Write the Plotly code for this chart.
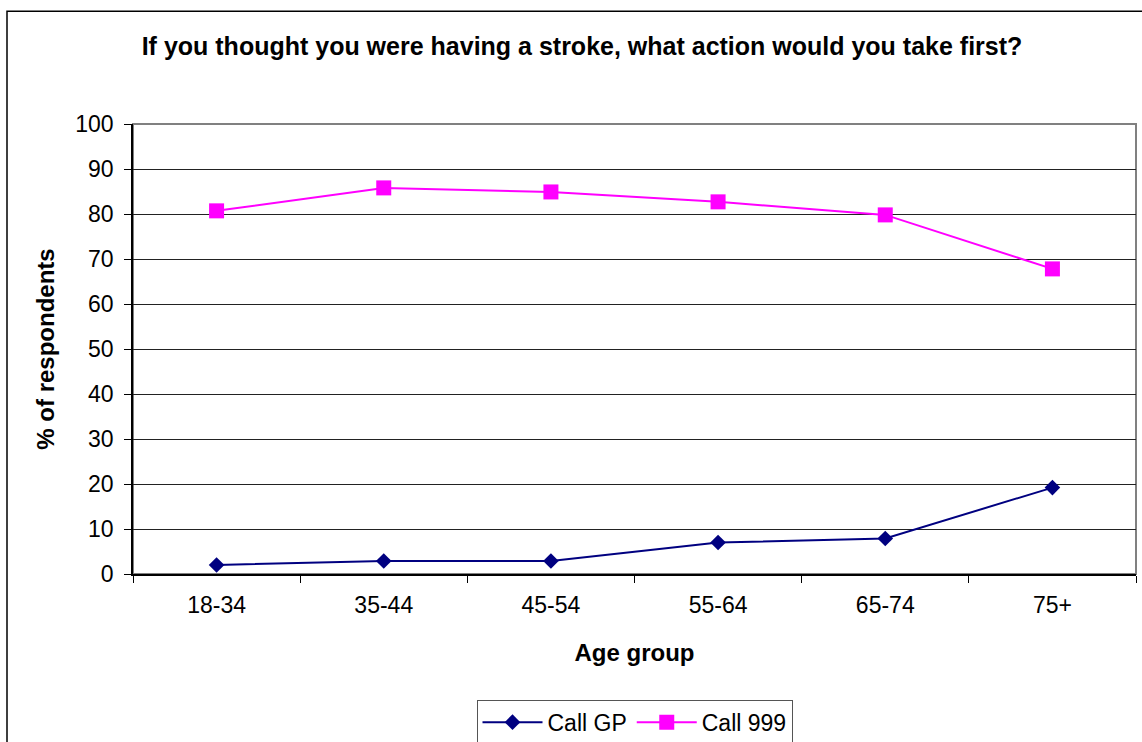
import plotly.graph_objects as go

categories = ["18-34", "35-44", "45-54", "55-64", "65-74", "75+"]
call_gp = [2.0, 2.9, 2.9, 7.0, 7.9, 19.2]
call_999 = [80.7, 85.8, 84.9, 82.7, 79.8, 67.8]
y_ticks = [0, 10, 20, 30, 40, 50, 60, 70, 80, 90, 100]

FONT = "Arial, Liberation Sans, Helvetica, sans-serif"

K = 1.012  # vertical compensation for the capture
W, H = 1142, round(742 * K)
PL, PR = 133, 1136
PT, PB = 123 * K, 574 * K

fig = go.Figure()
fig.add_trace(go.Scatter(
    x=categories, y=call_gp, name="Call GP", mode="lines+markers",
    line=dict(color="#000080", width=2),
    marker=dict(symbol="diamond", size=12, color="#000080"),
))
fig.add_trace(go.Scatter(
    x=categories, y=call_999, name="Call 999", mode="lines+markers",
    line=dict(color="#FF00FF", width=2),
    marker=dict(symbol="square", size=15, color="#FF00FF"),
))

pw, ph = PR - PL, PB - PT

fig.update_layout(
    width=W, height=H,
    margin=dict(l=PL, r=W - PR, t=PT, b=H - PB, pad=0),
    paper_bgcolor="white", plot_bgcolor="white",
    font=dict(family=FONT, size=23, color="black"),
    title=dict(
        text="<b>If you thought you were having a stroke, what action would you take first?</b>",
        x=582 / W, xref="container", xanchor="center",
        y=1 - 46 * K / H, yref="container", yanchor="middle",
        font=dict(size=25, family=FONT, color="black"),
    ),
    xaxis=dict(
        type="category", range=[-0.5, 5.5], tickson="boundaries",
        ticks="outside", ticklen=7, tickcolor="black", ticklabelstandoff=10,
        showline=True, linecolor="black", linewidth=1.5, showgrid=False,
        title=dict(text="<b>Age group</b>", font=dict(size=24), standoff=27),
        tickfont=dict(size=23),
    ),
    yaxis=dict(
        range=[0, 100], tickvals=y_ticks, ticks="outside", ticklen=7, tickcolor="black",
        ticklabelstandoff=6,
        showline=True, linecolor="black", linewidth=1.5,
        showgrid=True, gridcolor="#222222", gridwidth=1, zeroline=False,
        title=dict(text="<b>% of respondents</b>", font=dict(size=24), standoff=14),
        tickfont=dict(size=23),
    ),
    legend=dict(
        orientation="h", x=0.5, xanchor="center", y=(PB - 700 * K) / ph, yanchor="top",
        bordercolor="#555555", borderwidth=1, font=dict(size=23),
        itemwidth=60, tracegroupgap=0,
    ),
    showlegend=True,
    shapes=[
        dict(type="rect", xref="x domain", yref="y domain", x0=0, x1=1, y0=0, y1=1,
             line=dict(color="#808080", width=2), layer="below"),
        dict(type="rect", xref="paper", yref="paper",
             x0=(7 - PL) / pw, x1=1.2, y0=-0.6, y1=(PB - 10 * K) / ph,
             line=dict(color="black", width=1.5)),
    ],
)

fig.write_html(
    "out.html",
    config={"displayModeBar": False},
    post_script="document.body.style.margin='0px';document.body.style.overflow='hidden';",
)
